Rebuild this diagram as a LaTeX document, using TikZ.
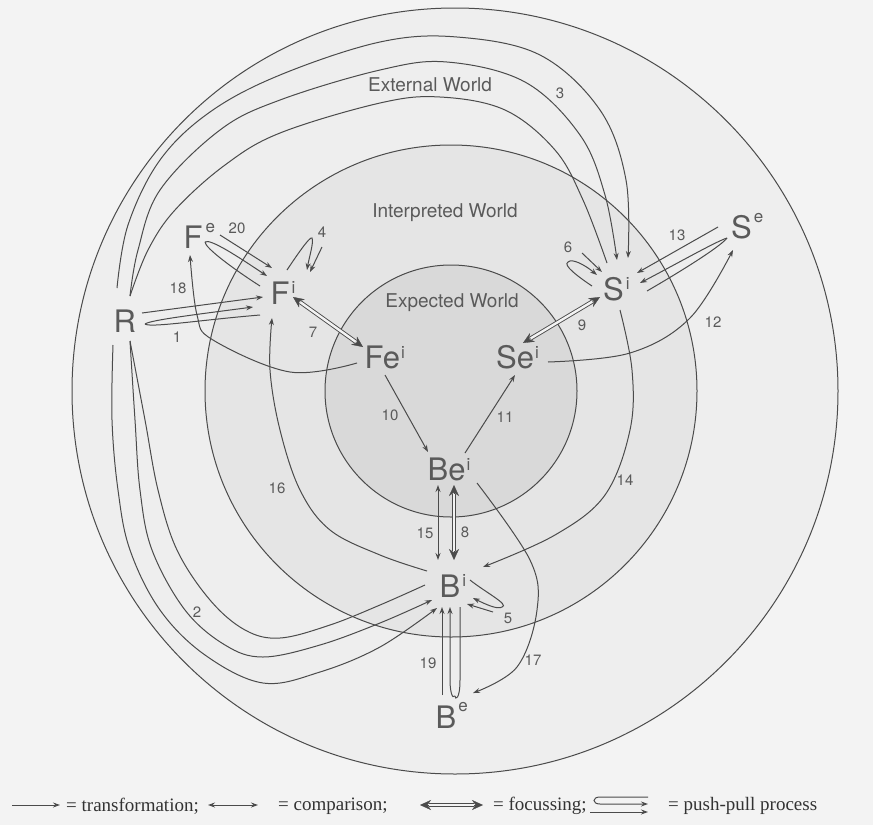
\documentclass[tikz,border=0pt]{standalone}
\usepackage{fontspec}
\setmainfont{Liberation Serif}
\newfontfamily\heros{TeX Gyre Heros}
\usetikzlibrary{arrows.meta}
\definecolor{ink}{HTML}{4B4B4B}
\definecolor{txt}{HTML}{5A5A5A}
\definecolor{paper}{HTML}{F3F3F3}
\definecolor{ringext}{HTML}{EEEEEE}
\definecolor{ringint}{HTML}{E5E5E5}
\definecolor{ringexp}{HTML}{D9D9D9}
\newcommand\hsup[2]{\raisebox{#1}{\fontsize{17}{17}\selectfont #2}}

\begin{document}
\begin{tikzpicture}[x=1pt,y=-1pt,
  every node/.style={inner sep=0pt, text=txt},
  state/.style={font=\heros\fontsize{31}{31}\selectfont, anchor=base west},
  num/.style={font=\heros\fontsize{15}{15}\selectfont},
  world/.style={font=\heros\fontsize{19}{19}\selectfont},
  conn/.style={draw=ink, line width=1pt},
  tr/.style={conn, -{Stealth[length=7pt,width=5pt]}},
  cmp/.style={conn, {Stealth[length=7pt,width=5pt]}-{Stealth[length=7pt,width=5pt]}},
  focustips/.style={draw=ink, line width=0.3pt, {Stealth[length=11pt,width=10pt]}-{Stealth[length=11pt,width=10pt]}},
  focusbar/.style={draw=ink, line width=0.9pt, double=paper, double distance=2.4pt, shorten <=9pt, shorten >=9pt},
  sm/.style={smooth, tension=0.6},
  legend/.style={font=\fontsize{19}{19}\selectfont, anchor=west, text=black!80}
]
\useasboundingbox (0,0) rectangle (873,825);
\fill[paper] (0,0) rectangle (873,825);

% the three worlds
\filldraw[fill=ringext, conn] (455,391) circle[radius=383pt];
\filldraw[fill=ringint, conn] (451,391) circle[radius=246pt];
\filldraw[fill=ringexp, conn] (451,391) circle[radius=126pt];

\node[world] (ext) at (430,85) {External World};
\node[world] (int) at (445,213) {Interpreted World};
\node[world] (exp) at (452,303) {Expected World};

% design states
\node[state] (R)   at (113.5,332) {R};
\node[state] (Fe)  at (183.5,248) {F\hspace{3pt}\hsup{16pt}{e}};
\node[state] (Fi)  at (270.5,304) {F\hspace{2pt}\hsup{11pt}{i}};
\node[state] (Fei) at (364.5,368) {Fe\hspace{1pt}\hsup{10pt}{i}};
\node[state] (Sei) at (496,368)   {Se\hspace{1pt}\hsup{10pt}{i}};
\node[state] (Si)  at (603,300)   {S\hspace{2pt}\hsup{11pt}{i}};
\node[state] (Se)  at (731,238)   {S\hspace{2pt}\hsup{16pt}{e}};
\node[state] (Bei) at (427.5,480) {Be\hspace{1pt}\hsup{10pt}{i}};
\node[state] (Bi)  at (439.5,597) {B\hspace{2pt}\hsup{11pt}{i}};
\node[state] (Be)  at (435.5,728) {B\hspace{2pt}\hsup{17pt}{e}};

% end points of the connectors
\coordinate (r3a) at (117,288);  \coordinate (si3a) at (628,258);
\coordinate (r3t) at (130,296);  \coordinate (si3b) at (617,260); \coordinate (si3c) at (607,263);
\coordinate (r2a) at (113,345);  \coordinate (bi2a) at (437,608);
\coordinate (r2t) at (130,341);  \coordinate (bi2b) at (432,600); \coordinate (bi2c) at (425,585);
\coordinate (r1a) at (142,313);  \coordinate (fi1a) at (263,297);
\coordinate (r1t) at (145,324);  \coordinate (fi1b) at (253,307); \coordinate (fi1c) at (260,315);
\coordinate (fe20a) at (220,235); \coordinate (fi20a) at (272,268);
\coordinate (fe20t) at (205,242); \coordinate (fi20b) at (267,276); \coordinate (fi20c) at (260,286);
\coordinate (fi4a) at (287,270); \coordinate (fi4t) at (312,238); \coordinate (fi4b) at (307,270);
\coordinate (fi4s) at (322,247); \coordinate (fi4e) at (310,272);
\coordinate (si6t) at (568,262); \coordinate (si6a) at (597,275); \coordinate (si6b) at (592,286);
\coordinate (si6s) at (582,253); \coordinate (si6e) at (602,272);
\coordinate (se13a) at (718,227); \coordinate (si13a) at (637,273);
\coordinate (se13t) at (727,238); \coordinate (si13b) at (640,283); \coordinate (si13c) at (647,291);
\coordinate (bi5a) at (470,580); \coordinate (bi5t) at (502,607); \coordinate (bi5b) at (473,598);
\coordinate (bi5s) at (493,612); \coordinate (bi5e) at (467,604);
\coordinate (be19a) at (442,695); \coordinate (bi19a) at (442,607);
\coordinate (be19t) at (455,696); \coordinate (bi19b) at (450,607); \coordinate (bi19c) at (460,607);
\coordinate (fi7) at (293,297);   \coordinate (fei7) at (363,347);
\coordinate (si9) at (600,297);   \coordinate (sei9) at (523,343);
\coordinate (bi8) at (454,560);   \coordinate (bei8) at (454,485);
\coordinate (bi15) at (438,560);  \coordinate (bei15) at (438,485);
\coordinate (fei10) at (385,375); \coordinate (bei10) at (428,452);
\coordinate (bei11) at (465,453); \coordinate (sei11) at (515,375);
\coordinate (sei12) at (548,362); \coordinate (se12) at (733,250);
\coordinate (si14) at (620,310);  \coordinate (bi14) at (483,567);
\coordinate (bi16) at (427,571);  \coordinate (fi16) at (272,318);
\coordinate (bei17) at (477,483); \coordinate (be17) at (473,693);
\coordinate (fei18) at (357,363); \coordinate (fe18) at (190,255);

% 3: R -> S^i (push-pull over the top)
\draw[tr] plot[sm] coordinates {(r3a) (128,225) (160,160) (210,112) (280,75) (380,42) (457,37) (540,55) (600,110) (626,180) (si3a)};
\draw[conn] plot[sm] coordinates {(si3c) (583,200) (555,150) (505,110) (440,97) (380,103) (280,133) (225,165) (175,210) (148,250) (r3t)};
\draw[tr] plot[sm] coordinates {(r3t) (138,250) (160,190) (220,130) (280,100) (380,70) (447,62) (525,82) (580,135) (605,195) (si3b)};

% 2: R -> B^i (push-pull round the bottom)
\draw[tr] plot[sm] coordinates {(r2a) (112,420) (118,490) (130,550) (160,610) (205,655) (263,683) (320,672) (380,647) (bi2a)};
\draw[conn] plot[sm] coordinates {(bi2c) (380,605) (330,625) (280,638) (245,630) (210,600) (177,550) (158,490) (145,420) (r2t)};
\draw[tr] plot[sm] coordinates {(r2t) (135,420) (140,490) (152,550) (185,610) (225,645) (263,657) (320,645) (380,623) (bi2b)};

% 1: R -> F^i
\draw[tr] (r1a) -- (fi1a);
\draw[conn] (fi1c) .. controls (200,320) and (150,328) .. (r1t);
\draw[tr] (r1t) .. controls (150,320) and (200,314) .. (fi1b);

% 20: F^e -> F^i
\draw[tr] (fe20a) -- (fi20a);
\draw[conn] (fi20c) .. controls (235,270) and (205,248) .. (fe20t);
\draw[tr] (fe20t) .. controls (210,238) and (240,258) .. (fi20b);

% 4: F^i -> F^i
\draw[tr] (fi4a) .. controls (297,255) and (310,236) .. (fi4t) .. controls (314,242) and (309,258) .. (fi4b);
\draw[tr] (fi4s) -- (fi4e);

% 6: S^i -> S^i
\draw[tr] (si6s) -- (si6e);
\draw[conn] (si6b) .. controls (580,278) and (562,265) .. (si6t);
\draw[tr] (si6t) .. controls (572,258) and (585,265) .. (si6a);

% 13: S^e -> S^i
\draw[tr] (se13a) -- (si13a);
\draw[conn] (si13c) .. controls (690,266) and (722,245) .. (se13t);
\draw[tr] (se13t) .. controls (715,242) and (680,262) .. (si13b);

% 5: B^i -> B^i
\draw[tr] (bi5a) .. controls (485,592) and (510,605) .. (bi5t) .. controls (498,610) and (485,604) .. (bi5b);
\draw[tr] (bi5s) -- (bi5e);

% 19: B^e -> B^i
\draw[tr] (be19a) -- (bi19a);
\draw[conn] (bi19c) -- (460,680) .. controls (460,700) and (455,700) .. (be19t);
\draw[tr] (be19t) .. controls (452,700) and (450,690) .. (450,680) -- (bi19b);

% focussing
\draw[focustips] (fi7) -- (fei7);  \draw[focusbar] (fi7) -- (fei7);
\draw[focustips] (si9) -- (sei9);  \draw[focusbar] (si9) -- (sei9);
\draw[focustips] (bi8) -- (bei8);  \draw[focusbar] (bi8) -- (bei8);

% comparison
\draw[cmp] (bi15) -- (bei15);

% transformations
\draw[tr] (fei10) -- (bei10);
\draw[tr] (bei11) -- (sei11);
\draw[tr] plot[sm] coordinates {(sei12) (630,353) (690,318) (se12)};
\draw[tr] plot[sm] coordinates {(si14) (632,370) (630,430) (605,495) (555,535) (bi14)};
\draw[tr] plot[sm] coordinates {(bi16) (380,555) (330,530) (300,490) (280,430) (270,370) (fi16)};
\draw[tr] plot[sm] coordinates {(bei17) (530,560) (537,610) (517,667) (be17)};
\draw[tr] plot[sm] coordinates {(fei18) (290,372) (213,340) (197,315) (fe18)};

% process numbers
\node[num] (n1)  at (177,337) {1};
\node[num] (n2)  at (197,612) {2};
\node[num] (n3)  at (560,93)  {3};
\node[num] (n4)  at (322,232) {4};
\node[num] (n5)  at (508,618) {5};
\node[num] (n6)  at (568,247) {6};
\node[num] (n7)  at (313,332) {7};
\node[num] (n8)  at (465,532) {8};
\node[num] (n9)  at (582,325) {9};
\node[num] (n10) at (390,415) {10};
\node[num] (n11) at (505,417) {11};
\node[num] (n12) at (713,322) {12};
\node[num] (n13) at (677,235) {13};
\node[num] (n14) at (625,480) {14};
\node[num] (n15) at (425,533) {15};
\node[num] (n16) at (277,488) {16};
\node[num] (n17) at (533,660) {17};
\node[num] (n18) at (178,288) {18};
\node[num] (n19) at (428,663) {19};
\node[num] (n20) at (237,228) {20};

% key
\coordinate (k1a) at (12,805);  \coordinate (k1b) at (60,805);
\coordinate (k2a) at (208,805); \coordinate (k2b) at (258,805);
\coordinate (k3a) at (420,805); \coordinate (k3b) at (483,805);
\draw[tr] (k1a) -- (k1b);
\node[legend] (l1) at (66,806) {= transformation;};
\draw[cmp] (k2a) -- (k2b);
\node[legend] (l2) at (278,806) {= comparison;};
\draw[focustips] (k3a) -- (k3b); \draw[focusbar] (k3a) -- (k3b);
\node[legend] (l3) at (493,806) {= focussing;};
\coordinate (k4a) at (648,797); \coordinate (k4b) at (648,804);
\coordinate (k4c) at (590,812); \coordinate (k4d) at (648,812);
\draw[tr] (k4a) -- (600,797) .. controls (592,797) and (592,804) .. (600,804) -- (k4b);
\draw[tr] (k4c) -- (k4d);
\node[legend] (l4) at (668,806) {= push-pull process};
\end{tikzpicture}
\end{document}
